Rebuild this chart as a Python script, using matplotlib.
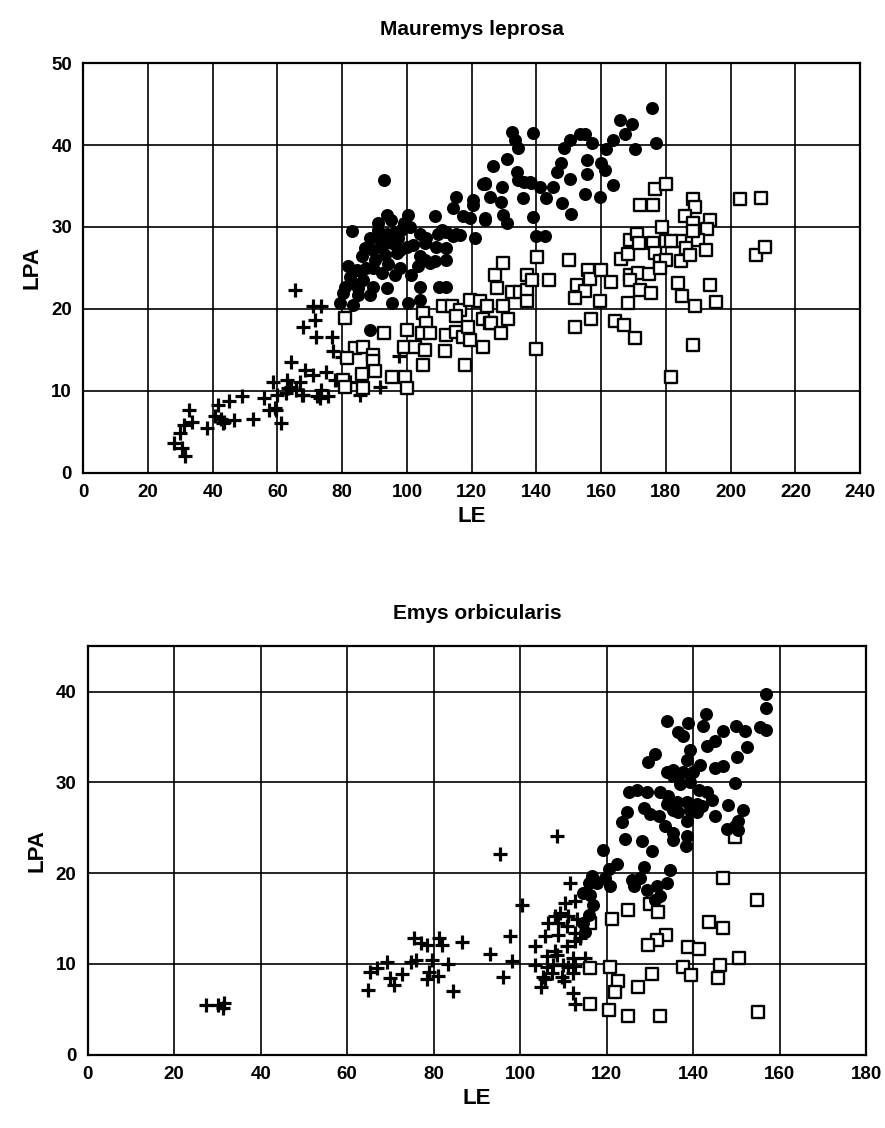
import matplotlib
matplotlib.use("Agg")
import matplotlib.pyplot as plt

plt.rcParams["font.family"] = ["Liberation Sans", "DejaVu Sans"]
plt.rcParams["font.weight"] = "bold"

# ---- Mauremys leprosa (top panel) ----
ML_PLUS_LE = [28, 30.6, 31.6, 30, 32.6, 33.7, 31, 38.3, 41.5, 42.5,
              45, 43.5, 46.6, 49, 52.3, 56, 57.5, 59.6, 61, 58.5,
              60, 63.2, 64.2, 62.7, 65.3, 67.9, 71.5, 71, 73.6, 72,
              76.7, 77.2, 68.4, 71, 75, 77.7, 67, 67.9, 73.6, 73,
              75.6, 79.8, 82.4, 85.5, 91.7, 97.4, 64.2, 65.8,
              62.9, 67.5, 72.1, 59.2, 40.7, 43.3]
ML_PLUS_LPA = [3.6, 3.0, 2.0, 4.8, 7.6, 6.2, 5.8, 5.4, 8.2, 6.6,
               8.7, 6.2, 6.4, 9.3, 6.6, 9.1, 7.6, 7.6, 6.0, 11.1,
               9.5, 10.3, 13.5, 9.7, 22.3, 17.8, 18.6, 20.4, 20.4, 16.6,
               16.6, 14.8, 12.5, 11.9, 12.3, 11.3, 11.1, 9.5, 10.1, 9.1,
               9.3, 14.1, 11.1, 9.5, 10.5, 14.3, 10.5, 10.1,
               11.3, 9.5, 9.3, 7.9, 6.9, 6.1]

ML_DOT_LE = [92.9, 93.7, 82.9, 100.3, 108.6, 115.3, 114.2, 120.4, 124, 121,
             96.3, 88.6, 91.1, 93.7, 96.3, 98.3, 100.9, 87, 89.6, 92.2,
             95.3, 96.8, 93.2, 97.8, 99.9, 81.9, 82.4, 84.5, 87.5, 89.6,
             92.2, 83.4, 86.5, 89.6, 93.7, 80.9, 85, 88.6, 80.3, 97.3,
             91.7, 104, 106, 109.7, 112.2, 114.3, 109.1, 112.2, 112.2, 107.1,
             104, 103.5, 101.4, 110.7, 115.3, 105.6, 105.6, 108.6, 104, 79.3,
             83.4, 95.3, 100.3, 104, 88.6, 110, 112,
             86, 90, 94, 98, 91, 95, 99, 85, 102,
             175.8, 165.7, 169.5, 167.5, 176.9, 170.4, 163.7, 161.4, 157.3, 153.4,
             155, 150.3, 148.5, 147.7, 146.2, 150.3, 155.6, 155.6, 160, 161.3,
             163.5, 155, 159.6, 148, 150.8, 145.2, 143.1, 141, 138, 135.9,
             134, 134.4, 130.8, 126.6, 132.3, 133.3, 134.4, 139, 124.1, 129.4,
             125.8, 129.2, 120.5, 124.1, 129.7, 130.8, 138.8, 117.4, 119.4, 116.4,
             140, 142.6, 123.6, 124, 136.2, 138.4]
ML_DOT_LPA = [35.7, 31.5, 29.5, 31.5, 31.3, 33.7, 32.3, 33.3, 35.4, 28.7,
              24.1, 28.6, 29.6, 29.2, 29.4, 29.6, 30, 27.4, 27.2, 27.6,
              28, 26.8, 26.6, 27.2, 27.6, 25.2, 23.9, 24.8, 25, 25,
              24.4, 23.1, 23.5, 22.7, 22.5, 22.7, 21.7, 21.7, 21.9, 28.6,
              28.4, 29.2, 28.6, 29.2, 29.4, 28.9, 27.6, 27.4, 26, 25.6,
              26.4, 25.2, 24.1, 29.6, 29.2, 28, 26, 25.8, 22.7, 20.7,
              20.5, 20.7, 20.7, 21.1, 17.4, 22.7, 22.7,
              26.5, 26, 25.5, 25, 30.5, 30.8, 30.5, 22.5, 27.8,
              44.5, 43, 42.6, 41.4, 40.2, 39.5, 40.6, 39.5, 40.3, 41.4,
              41.4, 40.6, 39.6, 37.8, 36.7, 35.9, 38.2, 36.5, 37.8, 37,
              35.1, 34, 33.7, 32.9, 31.6, 34.9, 33.5, 34.9, 35.5, 33.5,
              36.7, 35.7, 38.3, 37.4, 41.6, 40.6, 39.6, 41.5, 35.2, 34.9,
              33.6, 33, 32.7, 31.1, 31.5, 30.5, 31.2, 31.3, 31.1, 29,
              28.9, 28.9, 35.3, 30.9, 35.5, 35.4]

ML_SQ_LE = [81, 93, 84, 86.5, 89.6, 81.4, 89.6, 86, 90, 95.3,
            80.3, 81, 86.5, 99.4, 100, 100, 99, 105, 106, 104.5,
            107, 102.5, 105.6, 105, 111, 113.8, 116.4, 115.3, 112.2, 115.3,
            117.4, 111.7, 118, 119.4, 122.5, 123.6, 125.6, 119.4, 123.6, 119,
            124.6, 129.7, 126, 131.3, 129.2, 127.2, 129.7, 127.7, 132.3, 135,
            137, 137, 137, 138.5, 140.2, 139.8, 144, 150, 152.6, 155,
            156, 156.5, 160, 151.8, 159.6, 163, 152, 157, 164.2, 167,
            170.4, 166.2, 168.3, 168.8, 170.9, 171.7, 176, 176.5, 178.1, 178.8,
            180.1, 180.1, 171.9, 176, 176.5, 180.1, 169, 171.3, 174.8, 168.8,
            171.9, 175.3, 168.3, 183.7, 184.8, 193.7, 188.9, 195.4, 188.4, 181.7,
            188.4, 188.9, 185.8, 188.4, 193.5, 192.7, 184.3, 186.3, 189.9, 188.4,
            184.7, 187.3, 192.5, 178.1, 181.7, 203, 209.4, 207.9, 210.5]
ML_SQ_LPA = [18.9, 17, 15.2, 15.4, 14.4, 14, 13.6, 12, 12.4, 11.7,
             11.3, 10.5, 10.3, 11.7, 10.3, 17.4, 15.4, 19.5, 18.3, 17,
             17, 15.4, 15, 13.2, 20.3, 20.3, 19.9, 19.1, 16.8, 17.2,
             16.6, 14.8, 13.2, 21.1, 20.9, 18.7, 18.3, 16.2, 15.4, 17.8,
             20.3, 20.3, 18.3, 18.7, 17, 24.1, 25.6, 22.5, 22, 22,
             22.3, 20.9, 24.1, 23.5, 26.3, 15.1, 23.5, 26, 22.9, 22.2,
             24.7, 23.6, 24.8, 21.3, 20.9, 23.3, 17.8, 18.7, 18.5, 18,
             16.4, 26.1, 26.7, 28.4, 29.2, 28, 28, 26.8, 25.8, 30,
             28.3, 26, 32.7, 32.7, 34.6, 35.2, 24.1, 24.4, 24.2, 23.5,
             22.3, 21.9, 20.7, 23.2, 21.6, 22.9, 20.4, 20.8, 15.6, 11.7,
             33.4, 32.4, 31.3, 30.5, 30.9, 29.8, 28.3, 27.4, 28.4, 29.5,
             25.8, 26.6, 27.2, 25, 28.3, 33.4, 33.5, 26.6, 27.5]

# ---- Emys orbicularis (bottom panel) ----
EO_PLUS_LE = [27.4, 30.1, 31.2, 31.6,
              64.9, 65.3, 66.9, 69.2, 70, 70.8, 72.7, 74.7, 75.8, 75.4,
              77, 78.5, 79, 79.7, 80.9, 81.2,
              95.2, 108.4, 100.5, 97.6, 93, 98, 95.9, 86.5, 81.8, 83.4,
              84.5, 78.4,
              103.4, 105.7, 106.5, 108, 103.4, 106.1, 108.4, 105.7, 107.3, 104.9,
              111.5, 110.3, 112.6, 109.2, 111.1, 113, 108.8, 110.7, 108.8, 112.6,
              113.8, 108, 110.7, 112.6, 112.2, 114.9, 106.1, 107.6, 109.9, 111.1,
              112.6, 105.3, 109.6, 112.2, 110, 112.2, 112.6]
EO_PLUS_LPA = [5.5, 5.5, 5.1, 5.7,
               7.1, 9.1, 9.5, 10.2, 8.5, 7.7, 8.9, 10.2, 10.4, 12.9,
               12.3, 12.1, 9.1, 10.4, 8.7, 12.9,
               22.1, 24.1, 16.5, 13.1, 11.1, 10.3, 8.6, 12.4, 12.1, 10,
               7, 8.3,
               12, 13.1, 14.5, 15.3, 9.9, 10.9, 11, 8.3, 9, 7.5,
               18.9, 16.7, 16.9, 15.6, 15.3, 14.9, 14.5, 14.2, 13.2, 13.4,
               12.9, 11.4, 12, 12.5, 10.7, 10.6, 9.7, 9.9, 9.9, 9.7,
               9.8, 8.6, 8.6, 9, 8.1, 6.8, 5.6]

EO_DOT_LE = [156.8, 156.8, 155.4, 156.9, 149.8, 151.9, 142.9, 133.8, 138.8, 142.2,
             136.5, 137.7, 146.8, 145, 143.1, 152.5, 150, 131.2, 129.6, 139.2,
             138.5, 141.5, 140, 145, 146.9, 135.4, 133.8, 135.4, 137.7, 136.9,
             139.2, 141.2, 149.6, 125.2, 126.9, 129.2, 132.3, 134.2, 136.2, 138.5,
             140.8, 143.1, 144.2, 128.5, 130, 132, 133.8, 135.4, 136.5, 140.8,
             141.9, 145, 148.1, 151.5, 124.6, 123.5, 138.5, 139.2, 133.5, 135.4,
             135.4, 147.7, 149.6, 150.4, 150.4, 124.2, 128.1, 130.4, 138.5, 138.3,
             119.2, 122.3, 120.4, 128.6, 134.6, 116.5, 117.7, 119.6, 120.8, 115.8,
             114.6, 116.2, 116.9, 115.8, 115, 114.6, 125.9, 127.7, 126.2, 129.2,
             131.5, 132.3, 133.8, 131.2]
EO_DOT_LPA = [39.7, 38.2, 36.1, 35.8, 36.2, 35.7, 37.5, 36.8, 36.6, 36.2,
              35.6, 35.1, 35.7, 34.6, 34, 33.9, 32.8, 33.1, 32.2, 33.6,
              32.5, 31.9, 31.1, 31.6, 31.8, 31.4, 31.1, 30.7, 31.1, 29.8,
              30, 29.2, 29.9, 28.9, 29.2, 28.9, 28.9, 28.5, 27.9, 27.9,
              27.6, 28.9, 28.1, 27.2, 26.5, 26.3, 27.6, 27, 26.7, 26.7,
              27.4, 26.3, 27.5, 27, 26.7, 25.6, 25.7, 27, 25.2, 24.4,
              23.7, 24.9, 25.2, 25.7, 24.8, 23.8, 23.5, 22.4, 24.1, 23,
              22.6, 21, 20.5, 20.7, 20.3, 19.7, 18.9, 19.5, 18.6, 18.9,
              17.8, 17.6, 16.5, 15.4, 13.5, 14.5, 19.3, 19.5, 18.6, 18.2,
              18.6, 17.5, 18.9, 17.1]

EO_SQ_LE = [149.6, 146.8, 154.6, 143.7, 146.9, 130, 131.9, 125, 121.3, 116.2,
            133.7, 131.7, 129.6, 138.8, 141.2, 150.6, 146.2, 145.7, 137.7, 139.4,
            130.5, 120.8, 116.2, 122.7, 121.9, 127.3, 116.2, 120.4, 125, 132.3,
            155]
EO_SQ_LPA = [24.0, 19.5, 17.0, 14.6, 14.0, 16.6, 15.7, 15.9, 15.0, 14.5,
             13.2, 12.6, 12.1, 11.9, 11.6, 10.7, 9.9, 8.5, 9.7, 8.8,
             8.9, 9.7, 9.5, 8.1, 6.9, 7.5, 5.6, 4.9, 4.3, 4.3,
             4.7]


def STYLE_AXES(AX, XMAX, YMAX, XSTEP, YSTEP, TITLE):
    """Black grid, heavy frame and bold labels like the printed figure."""
    AX.set_xlim(0, XMAX)
    AX.set_ylim(0, YMAX)
    AX.set_xticks(range(0, XMAX + 1, XSTEP))
    AX.set_yticks(range(0, YMAX + 1, YSTEP))
    AX.grid(True, color="black", linewidth=1.2)
    AX.set_axisbelow(True)
    AX.tick_params(length=0, labelsize=13.5, pad=8)
    for LABEL in AX.get_xticklabels() + AX.get_yticklabels():
        LABEL.set_fontweight("bold")
    for SPINE in AX.spines.values():
        SPINE.set_linewidth(1.6)
    AX.set_xlabel("LE", fontsize=16, fontweight="bold", labelpad=4)
    AX.set_ylabel("LPA", fontsize=16, fontweight="bold", labelpad=6)
    AX.set_title(TITLE, fontsize=15, fontweight="bold", pad=20)


def DRAW(AX, PLUS_X, PLUS_Y, DOT_X, DOT_Y, SQ_X, SQ_Y):
    AX.scatter(PLUS_X, PLUS_Y, marker="+", s=100, color="black", linewidths=2.3, zorder=3)
    AX.scatter(SQ_X, SQ_Y, marker="s", s=66, facecolors="white", edgecolors="black",
               linewidths=1.7, zorder=3)
    AX.scatter(DOT_X, DOT_Y, marker="o", s=88, color="black", linewidths=0, zorder=4)


FIG = plt.figure(figsize=(8.85, 11.28), dpi=100)
AX_TOP = FIG.add_axes([0.094, 0.581, 0.878, 0.363])
AX_BOT = FIG.add_axes([0.099, 0.065, 0.880, 0.362])

DRAW(AX_TOP, ML_PLUS_LE, ML_PLUS_LPA, ML_DOT_LE, ML_DOT_LPA, ML_SQ_LE, ML_SQ_LPA)
STYLE_AXES(AX_TOP, 240, 50, 20, 10, "Mauremys leprosa")

DRAW(AX_BOT, EO_PLUS_LE, EO_PLUS_LPA, EO_DOT_LE, EO_DOT_LPA, EO_SQ_LE, EO_SQ_LPA)
STYLE_AXES(AX_BOT, 180, 45, 20, 10, "Emys orbicularis")
AX_BOT.set_yticks(range(0, 41, 10))

FIG.savefig("out.png", dpi=100)
